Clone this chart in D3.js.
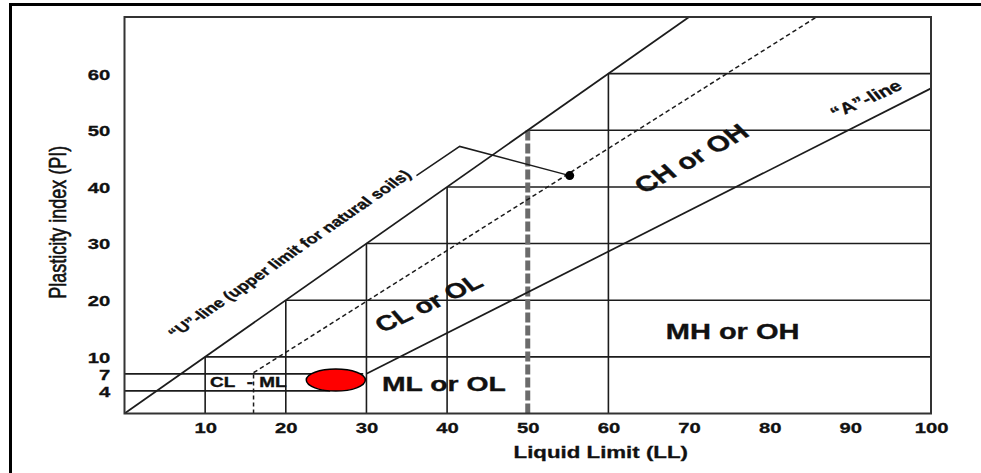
<!DOCTYPE html>
<html><head><meta charset="utf-8">
<script src="https://cdn.jsdelivr.net/npm/d3@7"></script>
<style>
html,body{margin:0;padding:0;background:#fff;}
svg{display:block;font-family:"Liberation Sans",Arial,sans-serif;}
</style></head><body>
<svg id="chart" width="981" height="473"></svg>
<script>
// ---- data (LL = liquid limit, PI = plasticity index) ----
const xTicks = [10,20,30,40,50,60,70,80,90,100];
const yTicks = [4,7,10,20,30,40,50,60];
const uLineLL = [0,70],  uLinePI = [0,70];
const aLineLL = [30,100], aLinePI = [7,57.4];
const dashLineLL = [16,85.8], dashLinePI = [7.2,70];
const gridVerticals = [10,20,30,40,60];
const gridHorizontals = [10,20,30,40,50,60];
const lowLinePI = [4,7];
const lowLineEndLL = [25.5,29.6];
const boundaryLL = 50;
const sampleCenter = [26.2,5.9];
const sampleRadius = [3.66,1.94];
const leaderLL = [36.2,41.56,55.2];
const leaderPI = [42.0,47.15,42.0];
const markerPoint = [55.2,42.0];
const labelTexts = ["\u201CU\u201D-line (upper limit for natural soils)","CL or OL","CH or OH","\u201CA\u201D-line","ML or OL","MH or OH","CL","-","ML"];
const labelLL = [6.3,38.36,71.05,92.4,39.6,75.4,10.6,15.15,16.7];
const labelPI = [13.2,18.4,43.94,54.7,3.96,13.1,4.67,4.67,4.67];

// ---- layout ----
const SX = 1.35; // horizontal stretch of the original picture
const svg = d3.select('#chart');
const x = d3.scaleLinear().domain([0,100]).range([124.5,931]);
const y = d3.scaleLinear().domain([0,70]).range([413.5,17]);
const ink = '#1c1c1c';

// outer frame (left + top visible)
svg.append('path').attr('d','M10.5,480 L10.5,4.5 L990,4.5')
  .attr('fill','none').attr('stroke','#000').attr('stroke-width',3);

const g = svg.append('g');
const line = d3.line().x(d=>x(d[0])).y(d=>y(d[1]));
const seg = (lls,pis)=>lls.map((v,i)=>[v,pis[i]]);

// grid verticals
g.selectAll('.gv').data(gridVerticals).join('line')
  .attr('x1',d=>x(d)).attr('x2',d=>x(d)).attr('y1',y(0)).attr('y2',d=>y(d))
  .attr('stroke',ink).attr('stroke-width',1.6);
// grid horizontals
g.selectAll('.gh').data(gridHorizontals).join('line')
  .attr('x1',d=>x(d)).attr('x2',x(100)).attr('y1',d=>y(d)).attr('y2',d=>y(d))
  .attr('stroke',ink).attr('stroke-width',1.6);
// low lines at PI 4 and 7
g.selectAll('.gl').data(lowLinePI).join('line')
  .attr('x1',x(0)).attr('x2',(d,i)=>x(lowLineEndLL[i])).attr('y1',d=>y(d)).attr('y2',d=>y(d))
  .attr('stroke',ink).attr('stroke-width',1.6);

// boundary LL=50 thick dashed
g.append('line').attr('x1',x(boundaryLL)).attr('x2',x(boundaryLL)).attr('y1',y(0)).attr('y2',y(boundaryLL))
  .attr('stroke','#6b6b6b').attr('stroke-width',5).attr('stroke-dasharray','10,3');

// U line, A line
g.append('path').attr('d',line(seg(uLineLL,uLinePI))).attr('fill','none').attr('stroke',ink).attr('stroke-width',1.7);
g.append('path').attr('d',line(seg(aLineLL,aLinePI))).attr('fill','none').attr('stroke',ink).attr('stroke-width',1.7);
// dashed line + drop
g.append('path').attr('d',line(seg(dashLineLL,dashLinePI))).attr('fill','none').attr('stroke',ink).attr('stroke-width',1.5).attr('stroke-dasharray','4.5,3');
g.append('path').attr('d',line([[dashLineLL[0],0],[dashLineLL[0],dashLinePI[0]]])).attr('fill','none').attr('stroke',ink).attr('stroke-width',1.5).attr('stroke-dasharray','4,3');

// plot border
g.append('rect').attr('x',x(0)).attr('y',y(70)).attr('width',x(100)-x(0)).attr('height',y(0)-y(70))
  .attr('fill','none').attr('stroke','#333').attr('stroke-width',2);

// leader line and marker
g.append('path').attr('d',line(seg(leaderLL,leaderPI))).attr('fill','none').attr('stroke',ink).attr('stroke-width',1.5);
g.append('circle').attr('cx',x(markerPoint[0])).attr('cy',y(markerPoint[1])).attr('r',4.5).attr('fill','#000');

// sample ellipse
g.append('ellipse').attr('cx',x(sampleCenter[0])).attr('cy',y(sampleCenter[1]))
  .attr('rx',x(sampleRadius[0])-x(0)).attr('ry',y(0)-y(sampleRadius[1]))
  .attr('fill','#ff0000').attr('stroke','#000').attr('stroke-width',1.5);

// labels
function stretched(a){ // image angle (deg) -> pre-stretch angle
  const r=a*Math.PI/180; return Math.atan2(Math.sin(r),Math.cos(r)/SX)*180/Math.PI;
}
const labelAngle = [-34.5,-25,-29,-24,0,0,0,0,0];
const labelSize = [13.6,21,22,15.5,21,21.5,14,14,14];
const labelAnchor = ['start','middle','middle','middle','middle','middle','start','start','start'];
g.selectAll('.lbl').data(labelTexts).join('text')
  .attr('transform',(d,i)=>`translate(${x(labelLL[i])},${y(labelPI[i])}) scale(${SX},1) rotate(${stretched(labelAngle[i])})`)
  .attr('text-anchor',(d,i)=>labelAnchor[i])
  .attr('font-size',(d,i)=>labelSize[i]).attr('font-weight','bold').attr('fill','#111')
  .attr('stroke','#111').attr('stroke-width',0.35)
  .text(d=>d);

// axes
const xa = svg.append('g').attr('transform',`translate(0,${y(0)})`)
  .call(d3.axisBottom(x).tickValues(xTicks).tickSize(0));
xa.select('.domain').remove();
xa.selectAll('text').attr('y',20).attr('dy',0).attr('transform',`scale(${SX},1)`)
  .attr('font-size',15).attr('font-weight','bold').attr('fill','#111')
  .attr('stroke','#111').attr('stroke-width',0.3)
  .attr('font-family','"Liberation Sans",Arial,sans-serif');

const ya = svg.append('g').attr('transform',`translate(${x(0)},0)`)
  .call(d3.axisLeft(y).tickValues(yTicks).tickSize(0));
ya.select('.domain').remove();
ya.selectAll('text').attr('x',-10.5).attr('dy','0.36em').attr('transform',`scale(${SX},1)`)
  .attr('font-size',15).attr('font-weight','bold').attr('fill','#111')
  .attr('stroke','#111').attr('stroke-width',0.3)
  .attr('font-family','"Liberation Sans",Arial,sans-serif');

// axis titles
svg.append('text').attr('transform',`translate(${(x(0)+x(100))/2+73},458) scale(${SX},1)`)
  .attr('text-anchor','middle').attr('font-size',16.5).attr('font-weight','bold').attr('fill','#111')
  .attr('stroke','#111').attr('stroke-width',0.3)
  .text('Liquid Limit (LL)');
svg.append('text').attr('transform',`translate(66,${(y(0)+y(70))/2+7}) scale(${SX},1) rotate(-90)`)
  .attr('text-anchor','middle').attr('font-size',18).attr('fill','#111')
  .attr('stroke','#111').attr('stroke-width',0.45)
  .text('Plasticity index (PI)');
</script></body></html>
